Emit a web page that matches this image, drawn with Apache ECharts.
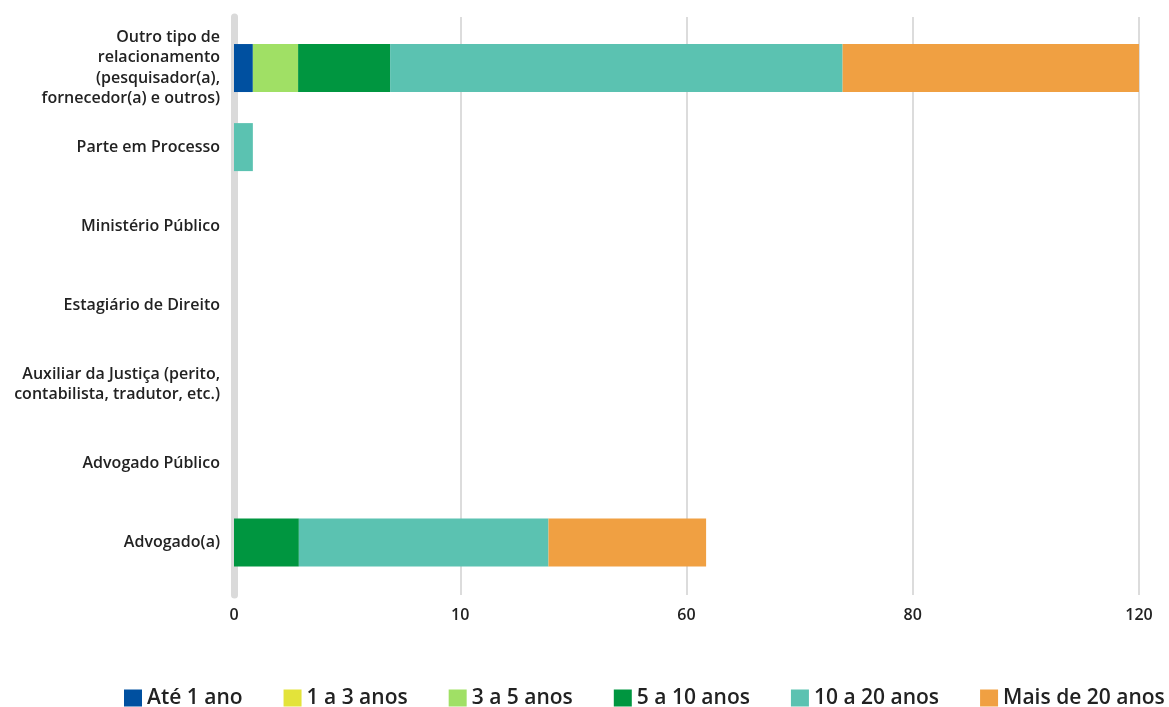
<!DOCTYPE html>
<html>
<head>
<meta charset="utf-8">
<script src="https://cdn.jsdelivr.net/npm/echarts@6/dist/echarts.min.js"></script>
<style>html,body{margin:0;padding:0;background:#fff}#c{width:1169px;height:707px}</style>
</head>
<body>
<div id="c"></div>
<script>
const categories = [
  "Advogado(a)",
  "Advogado Público",
  "Auxiliar da Justiça (perito,\ncontabilista, tradutor, etc.)",
  "Estagiário de Direito",
  "Ministério Público",
  "Parte em Processo",
  "Outro tipo de\nrelacionamento\n(pesquisador(a),\nfornecedor(a) e outros)"
];
const seriesNames = ["Até 1 ano", "1 a 3 anos", "3 a 5 anos", "5 a 10 anos", "10 a 20 anos", "Mais de 20 anos"];
const ate1 = [0, 0, 0, 0, 0, 0, 2.5];
const de1a3 = [0, 0, 0, 0, 0, 0, 0];
const de3a5 = [0, 0, 0, 0, 0, 0, 6];
const de5a10 = [8.6, 0, 0, 0, 0, 0, 12.2];
const de10a20 = [33.1, 0, 0, 0, 0, 2.5, 60];
const mais20 = [20.9, 0, 0, 0, 0, 0, 39.3];
const tickValues = [0, 30, 60, 90, 120];
const tickLabels = ["0", "10", "60", "80", "120"];
const colors = ["#0050A0", "#E3E33A", "#A0E065", "#009640", "#5BC2B1", "#F0A042"];

const allData = [ate1, de1a3, de3a5, de5a10, de10a20, mais20];
const chart = echarts.init(document.getElementById('c'));
const FONT = "'Open Sans', 'Noto Sans', sans-serif";
chart.setOption({
  animation: false,
  color: colors,
  textStyle: { fontFamily: FONT },
  grid: [
    { left: 234, right: 30, top: 28.5, bottom: 125, containLabel: false },
    { left: 234, right: 30, top: 17, bottom: 112, containLabel: false }
  ],
  legend: {
    left: 124, top: 686, padding: 0,
    itemWidth: 18, itemHeight: 17, itemGap: 41,
    icon: 'rect',
    textStyle: { fontSize: 21, fontWeight: 600, color: '#222', fontFamily: FONT, lineHeight: 24 },
    data: seriesNames
  },
  xAxis: [
    {
      gridIndex: 0, type: 'value', min: 0, max: 120, interval: 30,
      axisLine: { show: false }, axisTick: { show: false },
      splitLine: { show: false }, axisLabel: { show: false }
    },
    {
      gridIndex: 1, type: 'value', min: 0, max: 120, interval: 30,
      axisLine: { show: false }, axisTick: { show: false },
      splitLine: { show: true, showMinLine: false, lineStyle: { color: '#dcdcdc', width: 2 } },
      axisLabel: {
        margin: 12, fontSize: 16, fontWeight: 600, color: '#222', fontFamily: FONT,
        formatter: v => { const i = tickValues.indexOf(v); return i >= 0 ? tickLabels[i] : ''; }
      }
    }
  ],
  yAxis: [
    {
      gridIndex: 0, type: 'category', data: categories, offset: 3,
      axisLine: { show: false },
      axisTick: { show: false },
      axisLabel: { margin: 11, fontSize: 16, fontWeight: 600, color: '#222', lineHeight: 20.5, fontFamily: FONT, align: 'right' }
    },
    {
      gridIndex: 1, type: 'value', offset: 3.5, min: 0, max: 1,
      axisLine: { show: true, lineStyle: { color: '#dadada', width: 7 } },
      axisTick: { show: false }, axisLabel: { show: false }, splitLine: { show: false }
    }
  ],
  series: seriesNames.map((n, i) => ({
    name: n, type: 'bar', stack: 'total', barWidth: 48,
    xAxisIndex: 0, yAxisIndex: 0,
    data: allData[i],
    itemStyle: { color: colors[i] }
  }))
});
</script>
</body>
</html>
